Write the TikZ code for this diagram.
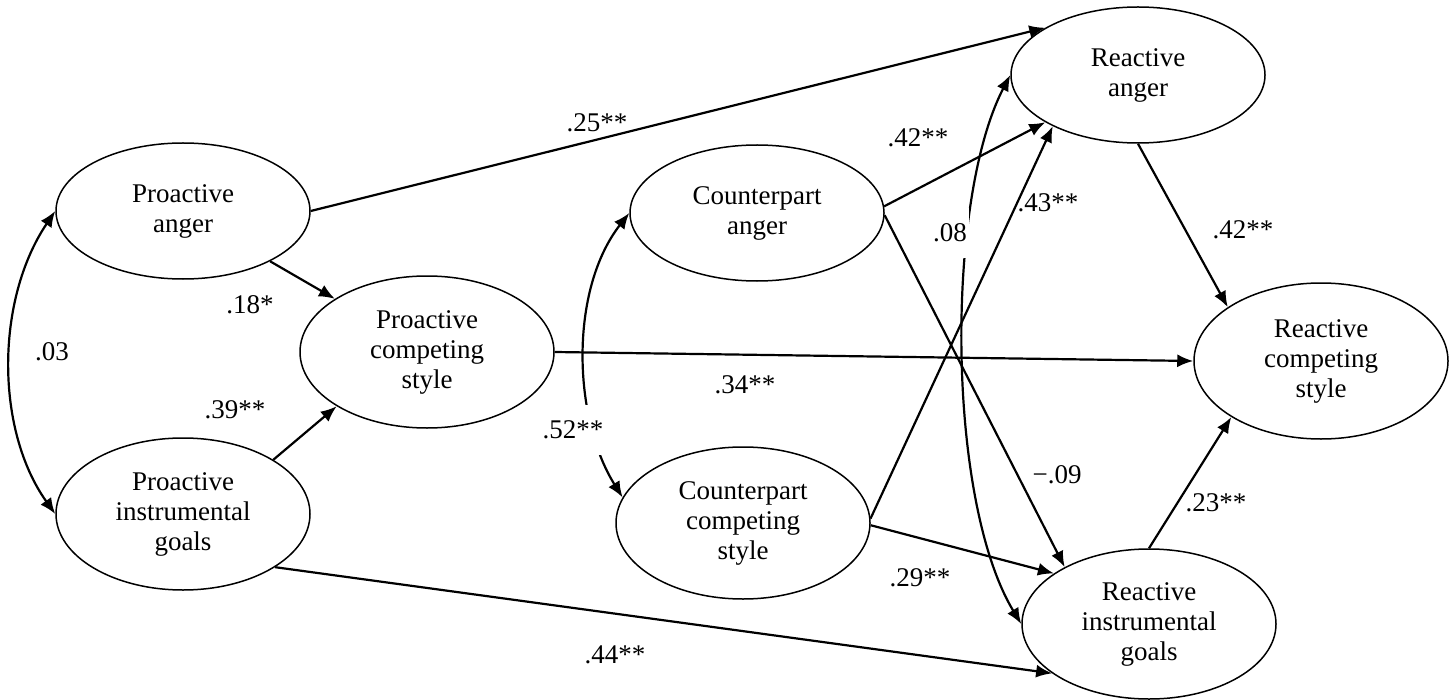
\documentclass[tikz,border=0pt]{standalone}
\usepackage{fontspec}
\setmainfont{Liberation Serif}
\usetikzlibrary{arrows.meta,shapes.geometric}
\tikzset{
  varnode/.style={draw, ellipse, line width=0.75pt, minimum width=127pt,
                  minimum height=68pt, inner sep=0pt, align=center,
                  font=\fontsize{13.5}{15}\selectfont},
  patharrow/.style={-{Latex[length=8pt,width=6.5pt]}, line width=1.1pt},
  covarrow/.style={{Latex[length=8pt,width=6.5pt]}-{Latex[length=8pt,width=6.5pt]}, line width=1.1pt},
  coef/.style={font=\fontsize{13.5}{15}\selectfont, inner sep=1pt}
}

\begin{document}
\begin{tikzpicture}[x=0.5pt, y=-0.5pt,
      varnode/.style={draw, ellipse, line width=0.75pt, minimum width=127pt,
                      minimum height=68pt, inner sep=0pt, align=center,
                      font=\fontsize{13.5}{15}\selectfont},
      patharrow/.style={-{Latex[length=8pt,width=6.5pt]}, line width=1.1pt},
      covarrow/.style={{Latex[length=8pt,width=6.5pt]}-{Latex[length=8pt,width=6.5pt]}, line width=1.1pt},
      coef/.style={font=\fontsize{13.5}{15}\selectfont, inner sep=1pt},
      gapcoef/.style={coef, fill=white, minimum height=25pt}
    ]
    \useasboundingbox (0,0) rectangle (1455,700);

    % Proactive side
    \node[varnode] (PA) at (183,211) {Proactive\\anger};
    \node[varnode, minimum height=76pt] (PCS) at (427,352) {Proactive\\competing\\style};
    \node[varnode, minimum height=76pt] (PIG) at (183,514) {Proactive\\instrumental\\goals};

    % Counterpart
    \node[varnode] (CA) at (757,213) {Counterpart\\anger};
    \node[varnode, minimum height=76pt] (CCS) at (743,523) {Counterpart\\competing\\style};

    % Reactive side
    \node[varnode] (RA) at (1138,75) {Reactive\\anger};
    \node[varnode, minimum height=78pt] (RCS) at (1321,361) {Reactive\\competing\\style};
    \node[varnode, minimum height=75pt] (RIG) at (1149,624) {Reactive\\instrumental\\goals};

    % Paths
    \draw[patharrow] (PA.east) -- (RA.153);
    \draw[patharrow] (PA.-30) -- (PCS.150);
    \draw[patharrow] (PIG.31) -- (PCS.211);
    \draw[patharrow] (PCS.east) -- (RCS.west);
    \draw[patharrow] (CA.3) -- (RA.207);
    \draw[patharrow] (CA.-1) -- (RIG.146);
    \draw[patharrow] (CCS.2) -- (RA.211);
    \draw[patharrow] (CCS.-1) -- (RIG.152);
    \draw[patharrow] (PIG.-30) -- (RIG.207);
    \draw[patharrow] (RA.south) -- (RCS.150);
    \draw[patharrow] (RIG.north) -- (RCS.212);

    % Covariances
    \draw[covarrow] (PA.west) .. controls +(-60,89) and +(-60,-84) .. (PIG.west);
    \draw[covarrow] (CA.west) .. controls +(-60,77) and +(-50,-80) .. (CCS.168);
    \draw[covarrow] (RA.west) .. controls +(-65,125) and +(-75,-124) .. (RIG.west);

    % Coefficients
    \node[coef] (c25) at (597,123) {.25**};
    \node[coef] (c18) at (250,305) {.18*};
    \node[coef] (c39) at (235,410) {.39**};
    \node[coef] (c03) at (52,352) {.03};
    \node[coef] (c34) at (745,385) {.34**};
    \node[gapcoef] (c52) at (573,430) {.52**};
    \node[coef] (c42a) at (918,138) {.42**};
    \node[gapcoef] (c08) at (950,233) {.08};
    \node[coef] (c43) at (1048,203) {.43**};
    \node[coef] (c09) at (1057,475) {−.09};
    \node[coef] (c29) at (920,578) {.29**};
    \node[coef] (c44) at (615,655) {.44**};
    \node[coef] (c42b) at (1243,230) {.42**};
    \node[coef] (c23) at (1216,503) {.23**};
  \end{tikzpicture}
\end{document}
